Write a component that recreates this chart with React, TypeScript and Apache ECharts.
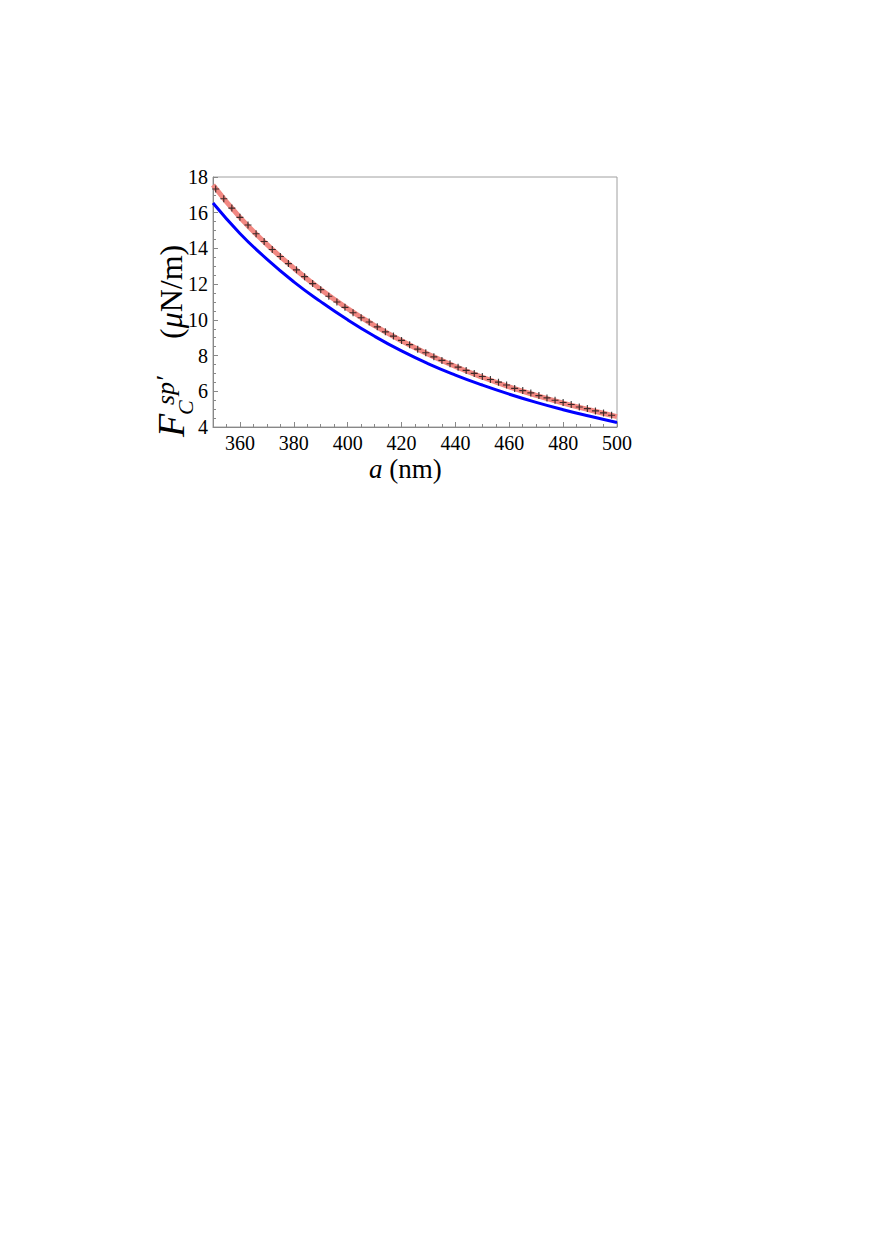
import React, { useEffect, useRef } from "react";
import * as echarts from "echarts";

// Separation a (nm) for the continuous curves
const lineA = [350, 360, 370, 380, 390, 400, 410, 420, 430, 440, 450, 460, 470, 480, 490, 500];
// Red (thick, salmon) curve values (μN/m)
const redF = [17.55, 15.74, 14.23, 12.9, 11.7, 10.63, 9.68, 8.83, 8.07, 7.39, 6.79, 6.25, 5.77, 5.34, 4.95, 4.58];
// Blue curve values (μN/m)
const blueF = [16.54, 14.84, 13.4, 12.13, 11.02, 10.0, 9.08, 8.26, 7.54, 6.91, 6.35, 5.84, 5.38, 4.97, 4.6, 4.25];

// "+" markers
const markerA = [
  351, 354, 357, 360, 363, 366, 369, 372, 375, 378, 381, 384, 387, 390, 393, 396, 399,
  402, 405, 408, 411, 414, 417, 420, 423, 426, 429, 432, 435, 438, 441, 444, 447, 450,
  453, 456, 459, 462, 465, 468, 471, 474, 477, 480, 483, 486, 489, 492, 495, 498,
];
const markerF = [
  17.33, 16.78, 16.26, 15.74, 15.31, 14.82, 14.39, 13.94, 13.55, 13.15, 12.8, 12.42, 12.03,
  11.69, 11.32, 11.0, 10.7, 10.4, 10.12, 9.88, 9.61, 9.33, 9.09, 8.85, 8.61, 8.36, 8.16,
  7.93, 7.73, 7.54, 7.35, 7.17, 7.0, 6.83, 6.66, 6.51, 6.35, 6.16, 6.04, 5.91, 5.76, 5.63,
  5.5, 5.37, 5.26, 5.12, 5.03, 4.9, 4.79, 4.66,
];

const xMajorTicks = [360, 380, 400, 420, 440, 460, 480, 500];

const SERIF = "Liberation Serif";

export default function App() {
  const ref = useRef<HTMLDivElement>(null);

  useEffect(() => {
    if (!ref.current) return;
    const chart = echarts.init(ref.current, null, { renderer: "svg" });

    const plus = "path://M2.5,0H3.5V2.5H6V3.5H3.5V6H2.5V3.5H0V2.5H2.5Z";
    const R = Math.PI / 2;

    const rotText = (x: number, y: number, text: string, size: number, italic: boolean, rich?: any) => ({
      type: "text",
      x,
      y,
      rotation: R,
      style: {
        text,
        fontFamily: SERIF,
        fontStyle: italic ? "italic" : "normal",
        fontSize: size,
        fill: "#000",
        align: "left",
        verticalAlign: "middle",
        rich,
      },
    });

    const option: any = {
      animation: false,
      backgroundColor: "#ffffff",
      textStyle: { fontFamily: SERIF },
      grid: {
        left: 213,
        top: 177,
        width: 404,
        height: 250,
        show: true,
        borderColor: "#a0a0a0",
        borderWidth: 1,
        backgroundColor: "transparent",
      },
      xAxis: [
        {
          type: "value",
          min: 350,
          max: 500,
          interval: 10,
          position: "bottom",
          axisLine: { show: true, lineStyle: { color: "#888888", width: 1 } },
          axisTick: {
            show: true,
            inside: true,
            length: 5,
            customValues: xMajorTicks,
            lineStyle: { color: "#888888" },
          },
          axisLabel: {
            show: true,
            margin: 6,
            fontFamily: SERIF,
            fontSize: 20,
            color: "#000",
            customValues: xMajorTicks,
            formatter: (v: number) => (v % 20 === 0 ? String(v) : ""),
          },
          splitLine: { show: false },
        },
        {
          type: "value",
          min: 350,
          max: 500,
          interval: 5,
          position: "bottom",
          offset: 0,
          axisLine: { show: false },
          axisTick: { show: true, inside: true, length: 3, lineStyle: { color: "#888888" } },
          axisLabel: { show: false },
          splitLine: { show: false },
        },
      ],
      yAxis: {
        type: "value",
        min: 4,
        max: 18,
        interval: 2,
        axisLine: { show: true, lineStyle: { color: "#888888", width: 1 } },
        axisTick: { show: true, inside: true, length: 5, lineStyle: { color: "#888888" } },
        minorTick: { show: true, splitNumber: 4, length: 3, lineStyle: { color: "#888888" } },
        axisLabel: {
          margin: 5,
          fontFamily: SERIF,
          fontSize: 20,
          color: "#000",
        },
        splitLine: { show: false },
      },
      series: [
        {
          type: "line",
          data: lineA.map((a, i) => [a, redF[i]]),
          smooth: true,
          showSymbol: false,
          lineStyle: { color: "#f28882", width: 5 },
          z: 2,
        },
        {
          type: "line",
          data: lineA.map((a, i) => [a, blueF[i]]),
          smooth: true,
          showSymbol: false,
          lineStyle: { color: "#0000ff", width: 3 },
          z: 2,
        },
        {
          type: "scatter",
          data: markerA.map((a, i) => [a, markerF[i]]),
          symbol: plus,
          symbolSize: 7,
          itemStyle: { color: "#111111" },
          z: 3,
        },
      ],
      graphic: [
        {
          type: "text",
          left: 369,
          top: 455,
          style: {
            text: "{i|a} (nm)",
            fontFamily: SERIF,
            fontSize: 27,
            lineHeight: 26,
            fill: "#000",
            rich: {
              i: { fontFamily: SERIF, fontStyle: "italic", fontSize: 27, lineHeight: 26, fill: "#000" },
            },
          },
        },
        rotText(171, 437, "F", 38, true),
        rotText(185, 415, "C", 22, true),
        rotText(165, 405, "sp′", 26, true),
        rotText(171, 339, "({m|μ}N/m)", 32, false, {
          m: { fontFamily: SERIF, fontStyle: "italic", fontSize: 32, fill: "#000" },
        }),
      ],
    };

    chart.setOption(option);
    return () => chart.dispose();
  }, []);

  return (
    <div
      ref={ref}
      style={{ position: "absolute", left: 0, top: 0, width: 872, height: 1234, background: "#fff" }}
    />
  );
}
